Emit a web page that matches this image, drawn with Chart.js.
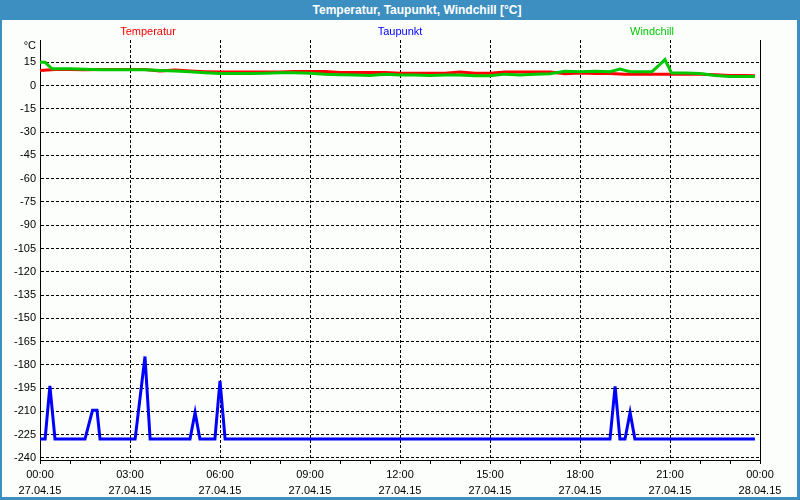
<!DOCTYPE html>
<html>
<head>
<meta charset="utf-8">
<script src="https://cdn.jsdelivr.net/npm/chart.js@4/dist/chart.umd.min.js"></script>
<style>
  html, body { margin: 0; padding: 0; }
  body { width: 800px; height: 500px; background: #3d8fc1; position: relative; overflow: hidden; font-family: "Liberation Sans", Arial, sans-serif; }
  #title { position: absolute; left: 34px; top: 0; width: 766px; height: 20px; line-height: 20px; text-align: center; color: #fff; font-weight: bold; font-size: 12px; }
  #panel { position: absolute; left: 2px; top: 20px; width: 795px; height: 477px; background: #fcfefc; }
  #chart { position: absolute; left: 0; top: 0; }
</style>
</head>
<body>
<div id="title">Temperatur, Taupunkt, Windchill [°C]</div>
<div id="panel"></div>
<canvas id="chart" width="800" height="500"></canvas>
<script>
// series names + colours
const seriesNames = ['Temperatur', 'Taupunkt', 'Windchill'];
const seriesColors = ['#ff0000', '#0000ff', '#00c800'];

// times in hours since 27.04.15 00:00
const tempTimes = [0, 0.5, 1, 1.5, 2, 2.5, 3, 3.5, 4, 4.5, 5, 5.5, 6, 6.5, 7, 7.5, 8, 8.5, 9, 9.5, 10, 10.5, 11, 11.5,
  12, 12.5, 13, 13.5, 14, 14.5, 15, 15.5, 16, 16.5, 17, 17.5, 18, 18.5, 19, 19.5, 20, 20.5, 21, 21.5, 22, 22.5, 23, 23.5, 23.83];
const tempValues = [9.7, 10.4, 10.4, 10.3, 10.4, 10.4, 10.4, 10.4, 9.5, 10.0, 9.5, 9.0, 8.7, 8.7, 8.7, 8.7, 8.7, 9.1, 9.1, 9.1, 8.4, 8.4, 8.4, 8.4,
  8.0, 8.0, 8.0, 8.0, 8.7, 8.0, 8.0, 8.7, 8.7, 8.7, 8.7, 7.6, 8.2, 7.8, 7.8, 7.3, 7.3, 7.3, 7.3, 7.3, 7.3, 7.0, 6.5, 6.5, 6.3];

const dewTimes = [0, 0.17, 0.33, 0.5, 1.5, 1.75, 1.9, 2.0, 3.17, 3.5, 3.67, 5.0, 5.17, 5.33, 5.83, 6.0, 6.17,
  19.0, 19.17, 19.33, 19.5, 19.67, 19.83, 23.83];
const dewValues = [-227.8, -227.8, -193.5, -227.8, -227.8, -209.3, -209.3, -227.8, -227.8, -174.6, -227.8, -227.8, -210.6, -227.8, -227.8, -190.3, -227.8,
  -227.8, -193.9, -227.8, -227.8, -210.6, -227.8, -227.8];

const chillTimes = [0, 0.17, 0.4, 1, 1.5, 2, 2.5, 3, 3.5, 4, 4.5, 5, 5.5, 6, 6.5, 7, 7.5, 8, 8.5, 9, 9.5, 10, 10.5, 11, 11.5,
  12, 12.5, 13, 13.5, 14, 14.5, 15, 15.5, 16, 16.5, 17, 17.5, 18, 18.5, 19, 19.33, 19.67, 20.4, 20.6, 20.83, 21.05, 21.5, 22, 22.5, 23, 23.5, 23.83];
const chillValues = [15.1, 15.0, 10.8, 10.8, 10.5, 10.2, 10.2, 10.2, 10.2, 9.8, 9.4, 9.0, 8.3, 7.8, 7.8, 7.8, 8.0, 8.3, 8.3, 8.0, 7.3, 7.0, 6.9, 6.5, 7.3,
  6.9, 6.9, 6.5, 6.8, 6.9, 6.3, 6.3, 7.4, 6.9, 7.4, 7.6, 9.3, 9.0, 9.3, 8.9, 10.6, 8.9, 9.0, 12.5, 16.8, 8.2, 8.2, 7.8, 6.5, 5.9, 5.9, 5.9];

// axis ticks
const yTicks = [-240, -225, -210, -195, -180, -165, -150, -135, -120, -105, -90, -75, -60, -45, -30, -15, 0, 15];
const xTickHours = [0, 3, 6, 9, 12, 15, 18, 21, 24];
const xTickTimes = ['00:00', '03:00', '06:00', '09:00', '12:00', '15:00', '18:00', '21:00', '00:00'];
const xTickDates = ['27.04.15', '27.04.15', '27.04.15', '27.04.15', '27.04.15', '27.04.15', '27.04.15', '27.04.15', '28.04.15'];

const fontFamily = '"Liberation Sans", Arial, sans-serif';

function pts(times, values) {
  return times.map((t, i) => ({ x: t, y: values[i] }));
}

// legend texts, the °C unit and the right frame line
const overlay = {
  id: 'overlay',
  afterDraw(chart) {
    const { ctx, chartArea } = chart;
    ctx.save();
    ctx.strokeStyle = '#000';
    ctx.lineWidth = 1;
    ctx.beginPath();
    ctx.moveTo(chartArea.right + 0.5, chartArea.top);
    ctx.lineTo(chartArea.right + 0.5, chartArea.bottom);
    ctx.stroke();

    ctx.font = '11px ' + fontFamily;
    ctx.textBaseline = 'middle';
    ctx.textAlign = 'center';
    seriesNames.forEach((name, i) => {
      ctx.fillStyle = seriesColors[i];
      ctx.fillText(name, chart.width / 2 + (i - 1) * 252, 32);
    });
    ctx.textAlign = 'right';
    ctx.fillStyle = '#000';
    ctx.fillText('°C', chartArea.left - 4, chartArea.top + 6);
    ctx.restore();
  }
};

const lineStyle = { borderWidth: 3, pointRadius: 0, tension: 0, fill: false };

new Chart(document.getElementById('chart'), {
  type: 'line',
  data: {
    datasets: [
      { label: seriesNames[2], data: pts(chillTimes, chillValues), borderColor: seriesColors[2], order: 0, ...lineStyle },
      { label: seriesNames[0], data: pts(tempTimes, tempValues), borderColor: seriesColors[0], order: 1, ...lineStyle },
      { label: seriesNames[1], data: pts(dewTimes, dewValues), borderColor: seriesColors[1], order: 2, ...lineStyle }
    ]
  },
  options: {
    responsive: false,
    animation: false,
    layout: { padding: { left: 0, top: 40, right: 40, bottom: 0 } },
    plugins: {
      legend: { display: false },
      tooltip: { enabled: false }
    },
    scales: {
      x: {
        type: 'linear',
        min: 0,
        max: 24,
        afterFit(scale) { scale.height = 40; },
        afterBuildTicks(scale) {
          const t = [];
          for (let h = 0; h <= 24; h++) t.push({ value: h });
          scale.ticks = t;
        },
        ticks: {
          autoSkip: false,
          maxRotation: 0,
          color: '#000',
          padding: 3,
          font: { family: fontFamily, size: 11, lineHeight: 1.45 },
          callback: (v) => {
            const i = xTickHours.indexOf(v);
            return i >= 0 ? [xTickTimes[i], xTickDates[i]] : '';
          }
        },
        grid: {
          color: (c) => (c.tick && c.tick.value % 3 === 0 ? '#000' : 'rgba(0,0,0,0)'),
          tickColor: '#000',
          tickLength: 4,
          lineWidth: 1
        },
        border: { display: true, color: '#000', width: 1, dash: [3, 2] }
      },
      y: {
        min: -241.3,
        max: 29.4,
        afterFit(scale) { scale.width = 40; },
        afterBuildTicks(scale) { scale.ticks = yTicks.map(v => ({ value: v })); },
        ticks: {
          color: '#000',
          padding: 4,
          font: { family: fontFamily, size: 11 },
          callback: (v) => String(v)
        },
        grid: { color: '#000', drawTicks: false, lineWidth: 1 },
        border: { display: true, color: '#000', width: 1, dash: [3, 2] }
      }
    }
  },
  plugins: [overlay]
});
</script>
</body>
</html>
